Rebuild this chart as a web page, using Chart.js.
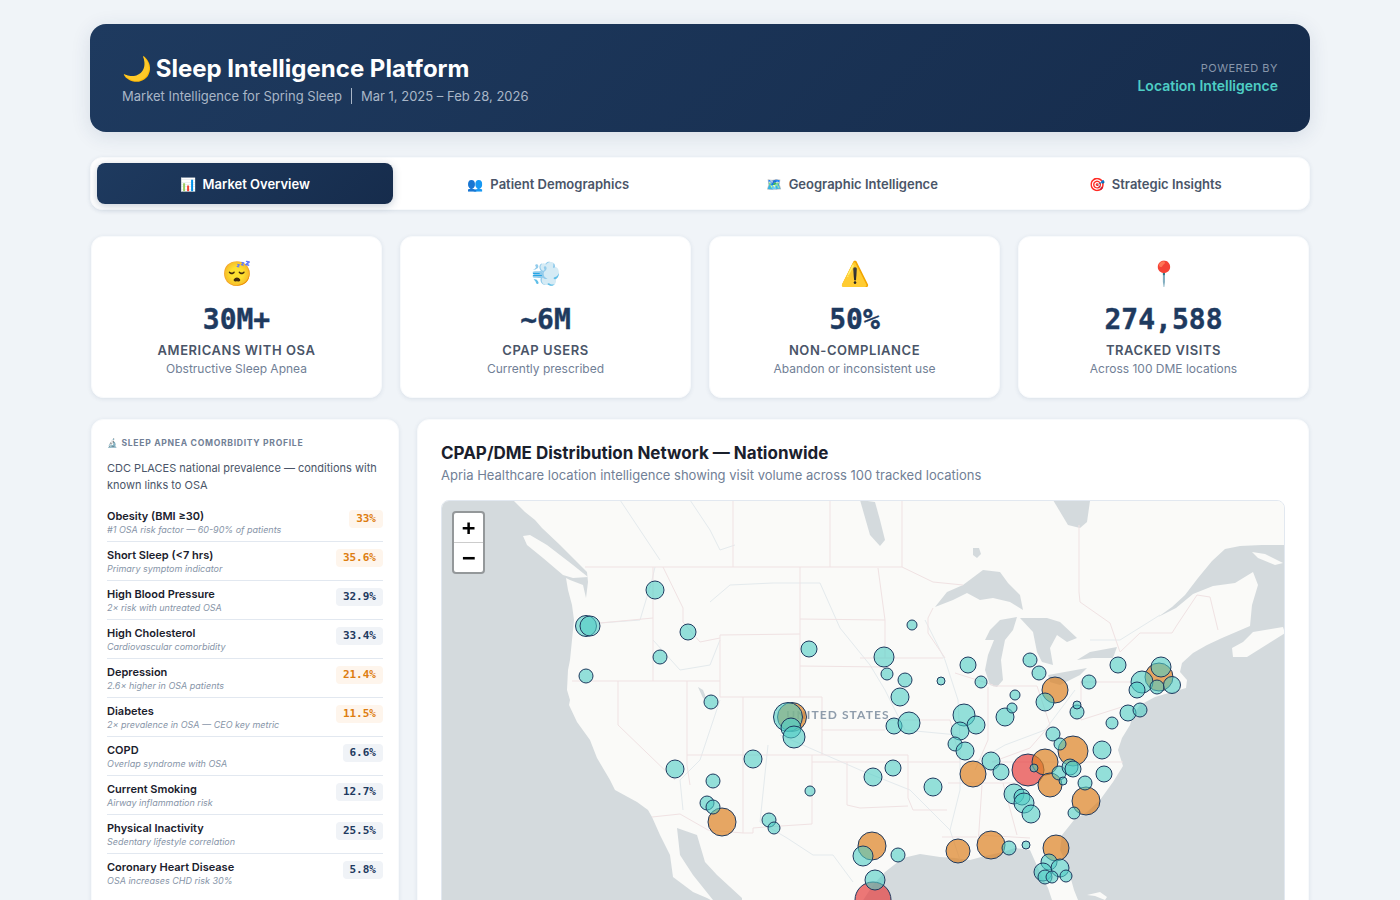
<!DOCTYPE html>
<html>
<head>
<meta charset="utf-8">
<title>Sleep Intelligence Platform</title>
<script src="https://cdn.jsdelivr.net/npm/chart.js@4/dist/chart.umd.min.js"></script>
<style>
* { box-sizing: border-box; margin: 0; padding: 0; }
html, body { height: 900px; overflow: hidden; }
body { background: #f0f4f8; font-family: Inter, "Noto Sans", sans-serif; color: #1a202c; }
.page { width: 1220px; margin: 24px auto 0; }
.header { height: 108px; border-radius: 16px; background: linear-gradient(135deg, #1e3a5f, #162c4c); padding: 0 32px; display: flex; justify-content: space-between; align-items: center; box-shadow: 0 4px 20px rgba(30,58,95,.12); color: #fff; }
.header h1 { font-size: 24px; font-weight: 700; line-height: 34px; margin-top: 3px; }
.header h1 i { font-style: normal; margin-right: -2px; }
.header .sub { font-size: 13px; color: #a9b6c7; margin-top: 1px; line-height: 20px; position: relative; top: -1px; }
.header .sub span { border-left: 1px solid #a9b6c7; margin-left: 9px; padding-left: 9px; }
.powered { text-align: right; }
.powered small { display: block; font-size: 11px; letter-spacing: .5px; color: #8796aa; line-height: 14px; }
.powered b { font-size: 14px; font-weight: 600; color: #4ecdc4; line-height: 20px; }
.tabs { margin-top: 25px; height: 53px; background: #fff; border: 1px solid #f8fafc; border-radius: 12px; padding: 5px 6px; display: flex; gap: 8px; box-shadow: 0 1px 4px rgba(30,58,95,.1); }
.tab { flex: 1; display: flex; align-items: center; justify-content: center; gap: 7px; font-size: 13px; font-weight: 600; color: #4a5568; border-radius: 8px; }
.tab.active { background: linear-gradient(135deg, #1e3a5f, #162c4c); color: #fff; box-shadow: 0 2px 8px rgba(30,58,95,.25); }
.kpis { margin-top: 26px; display: flex; gap: 18px; padding: 0 1px; }
.kpi { flex: 1; height: 162px; background: #fff; border: 1px solid #f8fafc; border-radius: 12px; text-align: center; box-shadow: 0 1px 4px rgba(30,58,95,.1); padding-top: 21px; }
.kpi .icon { font-size: 24px; line-height: 32px; }
.kpi .value { font-family: "DejaVu Sans Mono", monospace; font-weight: 700; font-size: 28px; line-height: 36px; color: #1e3a5f; margin-top: 12px; -webkit-text-stroke: .4px #1e3a5f; }
.kpi .label { font-size: 13px; font-weight: 600; letter-spacing: .55px; color: #4a5568; margin-top: 2px; line-height: 20px; }
.kpi .note { font-size: 12px; color: #718096; margin-top: 1px; line-height: 16px; }
.columns { margin-top: 21px; display: flex; gap: 18px; padding: 0 1px; }
.panel { background: #fff; border: 1px solid #f8fafc; border-radius: 12px; box-shadow: 0 1px 4px rgba(30,58,95,.1); height: 520px; }
.left { width: 308px; padding: 16px 15px 0; flex: none; }
.left h3 { font-size: 8.6px; font-weight: 700; letter-spacing: .7px; color: #718096; line-height: 14px; }
.left p { font-size: 11px; line-height: 17px; color: #4a5568; margin: 10px 0 9px; }
.row { height: 39px; border-bottom: 1px solid #e2e8f0; display: flex; justify-content: space-between; align-items: flex-start; padding-top: 6px; }
.row:last-child { border-bottom: none; }
.row .name { font-size: 11px; font-weight: 600; line-height: 15px; color: #1a202c; }
.row .hint { font-size: 9px; font-style: italic; line-height: 12px; color: #8795a8; }
.pill { font-family: "DejaVu Sans Mono", monospace; font-weight: 700; font-size: 11px; line-height: 18px; padding: 0 7px; border-radius: 4px; background: #f0f3f7; color: #1e3a5f; margin-top: 1px; }
.pill.hot { background: #fef5ec; color: #dd7d10; }
.right { flex: 1; padding: 21px 23px 0; }
.right h2 { font-size: 17px; font-weight: 700; line-height: 24px; color: #1a202c; }
.right .lead { font-size: 13px; line-height: 20px; color: #718096; }
.map { position: relative; margin-top: 15px; height: 470px; border: 1px solid #e2e8f0; border-radius: 8px; overflow: hidden; }
.zoom { position: absolute; left: 10px; top: 10px; width: 33px; height: 63px; background: #fff; border: 2px solid rgba(0,0,0,.3); border-radius: 4px; background-clip: padding-box; font: 700 22px "DejaVu Sans Mono", monospace; color: #000; text-align: center; }
.zoom div { height: 30px; line-height: 30px; }
.zoom div:first-child { border-bottom: 1px solid #ccc; }
</style>
</head>
<body>
<div class="page">
  <div class="header">
    <div>
      <h1><i>🌙</i> Sleep Intelligence Platform</h1>
      <div class="sub">Market Intelligence for Spring Sleep<span>Mar 1, 2025 – Feb 28, 2026</span></div>
    </div>
    <div class="powered"><small>POWERED BY</small><b>Location Intelligence</b></div>
  </div>
  <div class="tabs" id="tabs"></div>
  <div class="kpis" id="kpis"></div>
  <div class="columns">
    <div class="panel left" id="profile">
      <h3>🔬 SLEEP APNEA COMORBIDITY PROFILE</h3>
      <p>CDC PLACES national prevalence — conditions with known links to OSA</p>
    </div>
    <div class="panel right">
      <h2>CPAP/DME Distribution Network — Nationwide</h2>
      <div class="lead">Apria Healthcare location intelligence showing visit volume across 100 tracked locations</div>
      <div class="map">
        <canvas id="mapChart"></canvas>
        <div class="zoom"><div>+</div><div>−</div></div>
      </div>
    </div>
  </div>
</div>

<script>
const tabIcons = ['📊', '👥', '🗺️', '🎯'];
const tabNames = ['Market Overview', 'Patient Demographics', 'Geographic Intelligence', 'Strategic Insights'];

const kpiIcons = ['😴', '💨', '⚠️', '📍'];
const kpiValues = ['30M+', '~6M', '50%', '274,588'];
const kpiLabels = ['AMERICANS WITH OSA', 'CPAP USERS', 'NON-COMPLIANCE', 'TRACKED VISITS'];
const kpiNotes = ['Obstructive Sleep Apnea', 'Currently prescribed', 'Abandon or inconsistent use', 'Across 100 DME locations'];

const conditions = ['Obesity (BMI ≥30)', 'Short Sleep (<7 hrs)', 'High Blood Pressure', 'High Cholesterol', 'Depression', 'Diabetes', 'COPD', 'Current Smoking', 'Physical Inactivity', 'Coronary Heart Disease'];
const conditionHints = ['#1 OSA risk factor — 60-90% of patients', 'Primary symptom indicator', '2× risk with untreated OSA', 'Cardiovascular comorbidity', '2.6× higher in OSA patients', '2× prevalence in OSA — CEO key metric', 'Overlap syndrome with OSA', 'Airway inflammation risk', 'Sedentary lifestyle correlation', 'OSA increases CHD risk 30%'];
const conditionValues = ['33%', '35.6%', '32.9%', '33.4%', '21.4%', '11.5%', '6.6%', '12.7%', '25.5%', '5.8%'];
const conditionHot = [true, true, false, false, true, true, false, false, false, false];

// locations, x/y are map units, r is the bubble size
const tealX = [655,586,590,688,660,586,809,711,912,884,887,905,900,941,968,981,1030,1039,1015,1045,1089,1118,1142,1137,1161,1157,1172,788,791,794,753,675,713,707,713,810,769,774,873,893,933,894,909,964,976,960,955,965,991,1001,1005,1012,1077,1077,1112,1128,1140,1053,1060,1102,1034,1059,1070,1073,1063,1104,1085,1074,1014,1022,1024,1031,863,898,1009,1026,1049,1060,1043,1045,1052,1066,875];
const tealY = [590,626,626,632,657,676,649,702,625,657,674,680,697,681,665,682,660,673,695,702,682,665,682,690,667,687,685,717,728,737,759,769,781,803,807,791,820,828,777,768,787,726,723,715,725,731,744,751,761,772,717,708,712,705,723,713,710,734,744,750,768,773,767,769,781,774,783,813,794,797,803,814,856,855,848,845,862,868,872,877,877,876,880];
const tealR = [9,10.5,10,8,7,7,8,7,5,10,6,7,9,4,8,6,7,7,5,9,7,8,11,8,10,7,8.5,14.5,10,11,9,9,7,7,7,5,7,6,9,8,9,8,11,11,9,9,7,9,9,8,9,5,7,4,6,8,7,7,6,9,4,7,8,8,4,8,7,6,10,8,10,9,10,7,7,4,8,9,9,7,6,6,10];

const orangeX = [1055,1159,792,722,973,1073,1045,1050,1086,872,958,991,1056];
const orangeY = [690,677,717,822,774,751,762,785,801,846,851,845,848];
const orangeR = [13,14,14.5,14,13,15,13,12,14,14,12,14,13];

const redX = [1028,873];
const redY = [770,900];
const redR = [16,18];

// basemap outlines, same map units as the locations
const waterAreas = [
  [442,501,514,501,525,512,535,520,542,528,560,545,575,560,587,572,588,582,586,598,583,585,570,580,566,578,568,590,572,605,574,620,572,640,570,660,568,670,567,690,570,700,569,705,577,722,590,740,597,758,610,780,615,790,637,802,648,810,652,817,660,835,670,855,673,877,693,892,707,898,720,905,720,970,442,970],
  [677,828,697,835,705,862,717,875,742,898,742,905,717,905,693,875,680,855],
  [1285,545,1262,545,1240,546,1225,549,1212,561,1198,578,1185,595,1172,607,1158,617,1176,608,1193,594,1213,586,1235,583,1253,572,1258,585,1252,605,1250,626,1236,632,1222,638,1207,645,1193,653,1182,663,1180,672,1187,680,1186,688,1172,692,1155,697,1140,705,1133,715,1130,725,1122,738,1118,750,1123,766,1113,782,1100,800,1087,812,1074,820,1062,835,1060,850,1067,865,1074,890,1080,905,1075,925,1062,925,1052,900,1048,888,1038,868,1030,850,1015,848,1003,852,985,856,970,860,955,858,940,857,920,854,903,858,885,872,873,885,860,905,850,925,845,970,1285,970],
  [935,607,947,592,963,585,983,570,1000,572,1008,583,1020,595,1023,610,1010,602,993,598,980,600,967,593,953,600],
  [1017,617,1000,620,990,630,985,640,994,640,988,655,985,670,990,685,997,687,1003,680,1001,660,1005,640,1013,630],
  [1020,618,1047,618,1060,622,1077,638,1067,642,1057,635,1050,648,1053,665,1042,662,1037,652,1033,632],
  [1048,675,1087,668,1080,675,1060,685,1050,682],
  [1077,660,1090,652,1117,647,1113,658,1093,658],
  [860,500,875,502,880,520,885,540,880,546,870,535],
  [1053,500,1090,501,1087,522,1080,528,1068,525],
  [698,687,703,690,707,700,703,698],
  [973,548,979,548,981,554,977,558,973,555]
];
const landAreas = [
  [523,536,530,535,547,545,573,565,588,577,573,578,563,575,543,558,527,545],
  [1232,648,1243,642,1253,632,1283,627,1285,633,1247,657,1233,657],
  [1252,552,1265,554,1283,563,1275,565,1258,558],
  [1087,895,1100,892,1107,897,1105,900,1095,896]
];
const borderLines = [
  [585,567,902,567,933,582,963,585], [733,500,733,567], [830,500,830,567], [902,500,902,567],
  [1079,525,1079,592,1080,602,1110,623,1120,652], [1120,652,1140,633,1172,633,1177,625,1197,595,1210,597,1218,630],
  [653,567,653,681], [600,623,653,618], [572,681,720,681], [663,567,683,608,683,622,700,642,720,638],
  [720,635,800,634], [800,567,800,697], [800,619,885,620], [800,666,885,667], [720,635,720,697],
  [720,697,822,697], [743,697,743,833], [822,697,822,755], [687,681,687,765,690,785], [618,681,618,725,675,780],
  [652,817,680,814,708,830,743,833], [687,755,908,755], [812,755,812,824,765,827,753,828,753,833,743,833],
  [812,762,960,762], [847,762,847,805,860,808,908,806], [908,755,908,798,913,810,947,810], [822,730,885,730],
  [885,620,885,658,860,658], [885,658,943,658], [878,568,885,620], [928,618,933,608], [928,618,928,633,945,658],
  [955,673,993,685], [988,687,988,740,975,770], [993,686,1037,686], [1080,682,1130,682], [1081,682,1081,720],
  [948,783,1023,783], [982,785,978,845], [942,837,977,837], [978,835,1030,838], [1003,783,1017,835],
  [992,762,1123,762], [885,720,950,720], [950,720,960,760], [1037,686,1050,725,1030,748,992,762], [1081,720,1128,705]
];
const riverLines = [
  [925,620,945,660,958,700,960,740,960,790,950,830,960,860],
  [710,602,730,585,773,583,820,583,840,628,870,665,885,690,905,730,958,735],
  [600,623,640,620,652,580,655,567], [653,640,680,670,710,665,720,640],
  [768,745,760,822,787,838,813,855,833,855,853,882],
  [1075,690,1045,730,1005,745,970,765], [720,700,700,760,680,780,683,810],
  [780,735,860,770,910,790,950,830], [620,500,640,530,660,560], [690,500,710,530,720,550,735,545],
  [1090,640,1120,640,1160,615]
];

document.getElementById('tabs').innerHTML = tabNames.map((t, i) => `<div class="tab${i === 0 ? ' active' : ''}"><span>${tabIcons[i]}</span><span>${t}</span></div>`).join('');

document.getElementById('kpis').innerHTML = kpiValues.map((v, i) => `
  <div class="kpi">
    <div class="icon">${kpiIcons[i]}</div>
    <div class="value">${v}</div>
    <div class="label">${kpiLabels[i]}</div>
    <div class="note">${kpiNotes[i]}</div>
  </div>`).join('');

document.getElementById('profile').insertAdjacentHTML('beforeend', conditions.map((c, i) => `
  <div class="row">
    <div><div class="name">${c.replace('<', '&lt;')}</div><div class="hint">${conditionHints[i]}</div></div>
    <div class="pill${conditionHot[i] ? ' hot' : ''}">${conditionValues[i]}</div>
  </div>`).join(''));

// pairs up the small arrays into what the bubble controller wants
function toBubbles(xs, ys, rs) {
  return xs.map((x, i) => ({ x: x, y: ys[i], r: rs[i] }));
}

function tracePath(ctx, pts, xScale, yScale) {
  ctx.beginPath();
  for (let i = 0; i < pts.length; i += 2) {
    const px = xScale.getPixelForValue(pts[i]);
    const py = yScale.getPixelForValue(pts[i + 1]);
    if (i === 0) ctx.moveTo(px, py); else ctx.lineTo(px, py);
  }
}

// draws land, water and borders under the bubbles
const basemap = {
  id: 'basemap',
  beforeDatasetsDraw(chart) {
    const ctx = chart.ctx;
    const xs = chart.scales.x;
    const ys = chart.scales.y;
    const area = chart.chartArea;
    ctx.save();
    ctx.fillStyle = '#fafaf8';
    ctx.fillRect(area.left, area.top, area.width, area.height);
    ctx.lineJoin = 'round';

    ctx.fillStyle = '#d4dadd';
    waterAreas.forEach(pts => { tracePath(ctx, pts, xs, ys); ctx.closePath(); ctx.fill(); });
    ctx.fillStyle = '#fafaf8';
    landAreas.forEach(pts => { tracePath(ctx, pts, xs, ys); ctx.closePath(); ctx.fill(); });

    ctx.strokeStyle = '#e4eaed';
    ctx.lineWidth = 1;
    riverLines.forEach(pts => { tracePath(ctx, pts, xs, ys); ctx.stroke(); });
    ctx.strokeStyle = '#f0e2e3';
    borderLines.forEach(pts => { tracePath(ctx, pts, xs, ys); ctx.stroke(); });

    ctx.fillStyle = '#8e9cab';
    ctx.font = '700 12px Lato, sans-serif';
    ctx.letterSpacing = '1.1px';
    ctx.textAlign = 'center';
    ctx.textBaseline = 'middle';
    ctx.fillText('UNITED STATES', xs.getPixelForValue(838), ys.getPixelForValue(715));
    ctx.restore();
  }
};

new Chart(document.getElementById('mapChart').getContext('2d'), {
  type: 'bubble',
  data: {
    datasets: [
      { label: 'Standard', data: toBubbles(tealX, tealY, tealR), backgroundColor: 'rgba(78,205,196,0.6)', borderColor: '#1e3a5f', borderWidth: 1 },
      { label: 'High', data: toBubbles(orangeX, orangeY, orangeR), backgroundColor: 'rgba(221,130,35,0.7)', borderColor: '#1e3a5f', borderWidth: 1 },
      { label: 'Top', data: toBubbles(redX, redY, redR), backgroundColor: 'rgba(229,62,62,0.7)', borderColor: '#1e3a5f', borderWidth: 1 }
    ]
  },
  plugins: [basemap],
  options: {
    responsive: true,
    maintainAspectRatio: false,
    animation: false,
    layout: { padding: 0, autoPadding: false },
    plugins: { legend: { display: false }, tooltip: { enabled: false } },
    scales: {
      x: { type: 'linear', display: false, min: 442, max: 1284 },
      y: { type: 'linear', display: false, min: 501, max: 969, reverse: true }
    }
  }
});
</script>
</body>
</html>
